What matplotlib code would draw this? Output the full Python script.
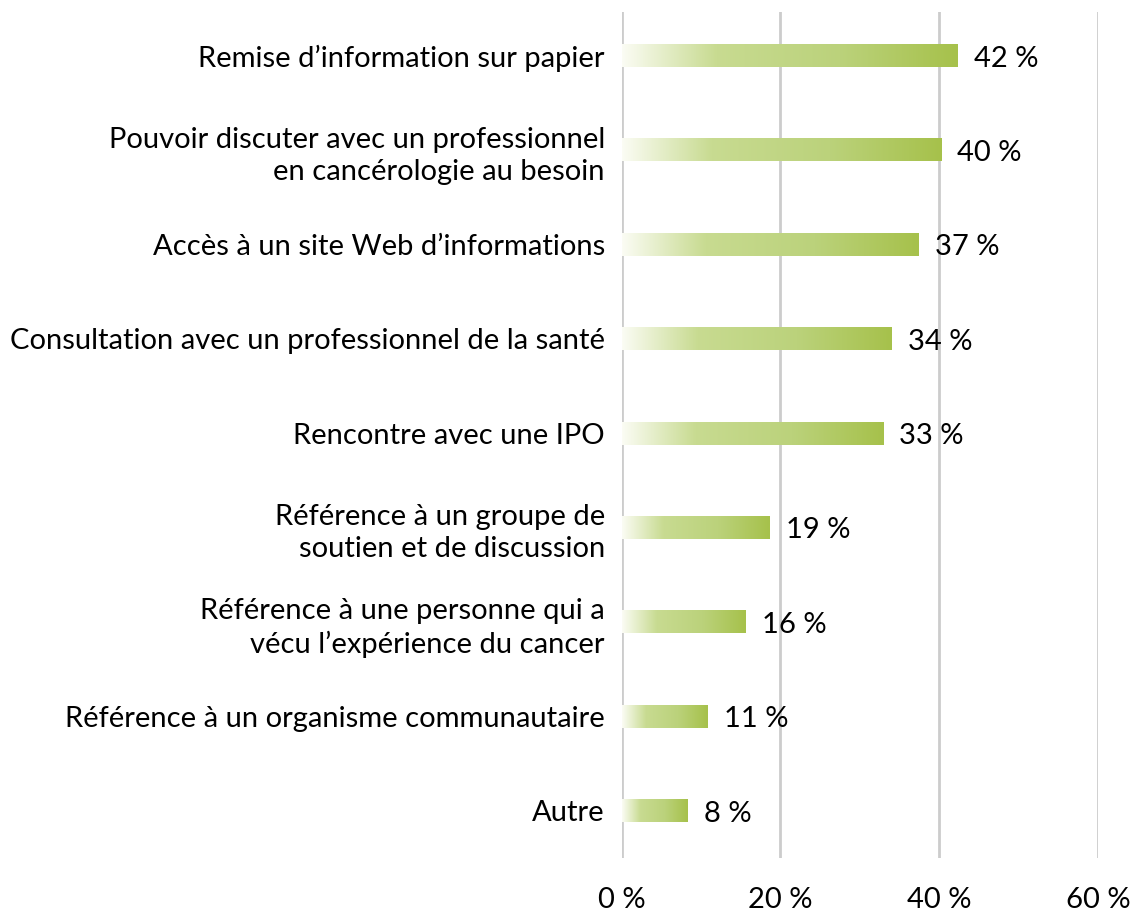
import numpy as np
import matplotlib
matplotlib.use("Agg")
import matplotlib.pyplot as plt
from matplotlib.colors import LinearSegmentedColormap

# data
categories = [
    "Remise d\u2019information sur papier",
    "Pouvoir discuter avec un professionnel\nen canc\u00e9rologie au besoin",
    "Acc\u00e8s \u00e0 un site Web d\u2019informations",
    "Consultation avec un professionnel de la sant\u00e9",
    "Rencontre avec une IPO",
    "R\u00e9f\u00e9rence \u00e0 un groupe de\nsoutien et de discussion",
    "R\u00e9f\u00e9rence \u00e0 une personne qui a\nv\u00e9cu l\u2019exp\u00e9rience du cancer",
    "R\u00e9f\u00e9rence \u00e0 un organisme communautaire",
    "Autre",
]
values = [42.3, 40.2, 37.4, 34.0, 32.9, 18.6, 15.6, 10.8, 8.3]
xticks = [0, 20, 40, 60]

plt.rcParams['font.family'] = ['Lato', 'DejaVu Sans']
FS = 21

fig = plt.figure(figsize=(11.48, 9.13), dpi=100)
ax = fig.add_axes([0.5414, 0.0602, 0.9564 - 0.5414, 0.9865 - 0.0602])

# gradient white -> light green -> green, like the Excel fill
green = LinearSegmentedColormap.from_list(
    "grn", [(0.0, "#fbfcf4"), (0.28, "#c8db91"), (0.65, "#bbd27b"), (1.0, "#a6c14b")])
grad = np.linspace(0, 1, 256).reshape(1, -1)

y = np.arange(len(categories))
bars = ax.barh(y, values, height=0.24, color="none", edgecolor="none", zorder=2)
for b in bars:
    x0, y0, w, h = b.get_x(), b.get_y(), b.get_width(), b.get_height()
    ax.imshow(grad, extent=[x0, x0 + w, y0, y0 + h], aspect="auto", cmap=green,
              interpolation="bilinear", zorder=2)

# value labels right of the bars
for yi, v in zip(y, values):
    ax.annotate(f"{round(v)} %", (v, yi), xytext=(12, -2), textcoords="offset points",
                va="center", ha="left", fontsize=FS, color="black")

ax.set_xlim(0, 60)
ax.set_ylim(8.5, -0.46)
ax.set_xticks(xticks, [f"{t} %" for t in xticks], fontsize=FS)
ax.set_yticks(y, categories, fontsize=FS)
for lab in ax.get_yticklabels():
    lab.set_linespacing(1.3)
ax.tick_params(axis="both", length=0)
ax.tick_params(axis="y", pad=12)
ax.tick_params(axis="x", pad=21)
for s in ax.spines.values():
    s.set_visible(False)
ax.grid(axis="x", color="#cccccc", linewidth=2)
ax.set_axisbelow(True)

fig.savefig("out.png", dpi=100)
